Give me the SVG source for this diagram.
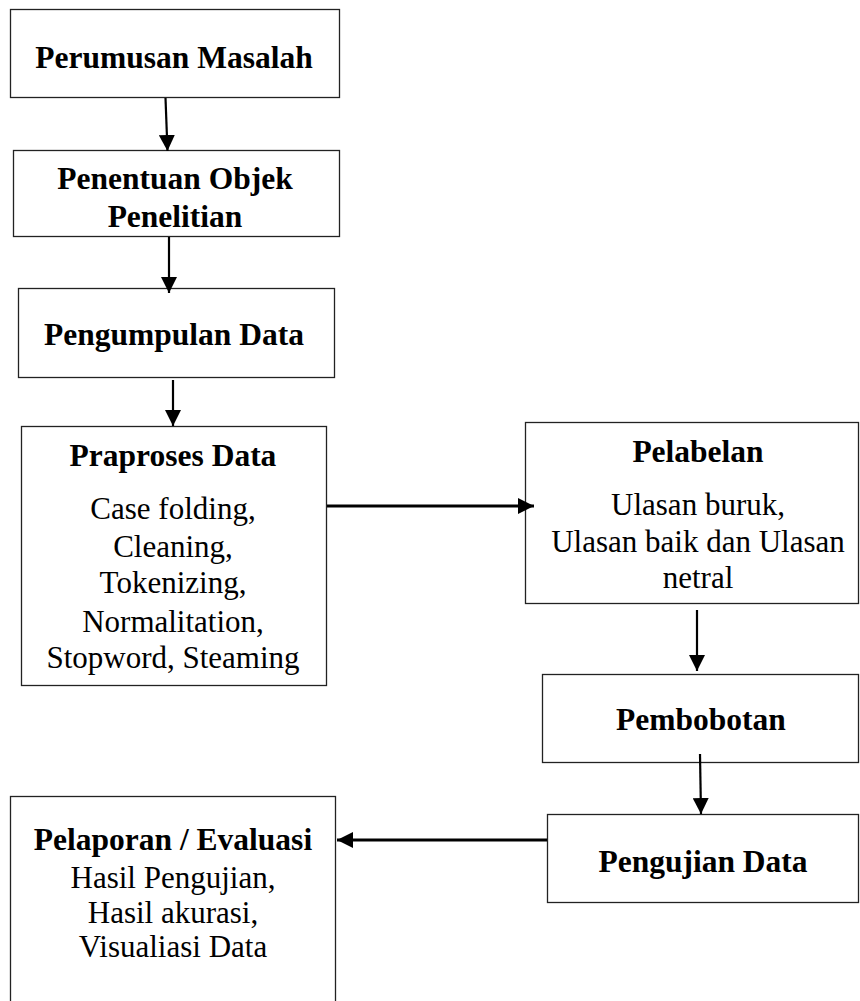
<svg xmlns="http://www.w3.org/2000/svg" width="860" height="1001" viewBox="0 0 860 1001">
  <style>
    .box { fill: #ffffff; stroke: #222222; stroke-width: 1.3; }
    .title { font-family: "Liberation Serif", "Times New Roman", serif; font-weight: bold; font-size: 31.5px; fill: #000000; text-anchor: middle; }
    .body { font-family: "Liberation Serif", "Times New Roman", serif; font-size: 31px; fill: #000000; text-anchor: middle; }
    .link { fill: none; stroke: #000000; stroke-width: 2.2; }
    .link.wide { stroke-width: 2.8; }
  </style>
  <defs>
    <marker id="arrow" viewBox="0 0 16 16" refX="16" refY="8" markerWidth="16" markerHeight="16" markerUnits="userSpaceOnUse" orient="auto">
      <path d="M0,0 L16,8 L0,16 z" fill="#000000"/>
    </marker>
  </defs>

  <rect width="860" height="1001" fill="#ffffff"/>

  <g id="perumusan-masalah">
    <rect class="box" x="10.5" y="9.5" width="329" height="88"/>
    <text class="title" x="174" y="68">Perumusan Masalah</text>
  </g>

  <g id="penentuan-objek">
    <rect class="box" x="13.5" y="150.5" width="326" height="86"/>
    <text class="title" x="175" y="189">Penentuan Objek</text>
    <text class="title" x="175" y="227">Penelitian</text>
  </g>

  <g id="pengumpulan-data">
    <rect class="box" x="18.5" y="288.5" width="316" height="89"/>
    <text class="title" x="174" y="345">Pengumpulan Data</text>
  </g>

  <g id="praproses-data">
    <rect class="box" x="21.5" y="426.5" width="305" height="259"/>
    <text class="title" x="173" y="466">Praproses Data</text>
    <text class="body" x="173" y="519">Case folding,</text>
    <text class="body" x="173" y="557">Cleaning,</text>
    <text class="body" x="173" y="593">Tokenizing,</text>
    <text class="body" x="173" y="632">Normalitation,</text>
    <text class="body" x="173" y="668">Stopword, Steaming</text>
  </g>

  <g id="pelabelan">
    <rect class="box" x="525.5" y="422.5" width="333" height="181"/>
    <text class="title" x="698" y="462">Pelabelan</text>
    <text class="body" x="698" y="515">Ulasan buruk,</text>
    <text class="body" x="698" y="552">Ulasan baik dan Ulasan</text>
    <text class="body" x="698" y="588">netral</text>
  </g>

  <g id="pembobotan">
    <rect class="box" x="542.5" y="674.5" width="316" height="88"/>
    <text class="title" x="701" y="730">Pembobotan</text>
  </g>

  <g id="pengujian-data">
    <rect class="box" x="547.5" y="814.5" width="311" height="88"/>
    <text class="title" x="703" y="872">Pengujian Data</text>
  </g>

  <g id="pelaporan-evaluasi">
    <rect class="box" x="10.5" y="796.5" width="325" height="220"/>
    <text class="title" x="173" y="850">Pelaporan / Evaluasi</text>
    <text class="body" x="173" y="888">Hasil Pengujian,</text>
    <text class="body" x="173" y="923">Hasil akurasi,</text>
    <text class="body" x="173" y="957">Visualiasi Data</text>
  </g>

  <g id="connectors">
    <line class="link" x1="165.5" y1="98" x2="167.5" y2="151" marker-end="url(#arrow)"/>
    <line class="link" x1="169" y1="237" x2="169" y2="293" marker-end="url(#arrow)"/>
    <line class="link" x1="173" y1="380" x2="173" y2="426" marker-end="url(#arrow)"/>
    <line class="link wide" x1="327" y1="506" x2="534" y2="506" marker-end="url(#arrow)"/>
    <line class="link" x1="697" y1="610" x2="697" y2="671" marker-end="url(#arrow)"/>
    <line class="link" x1="700" y1="754" x2="701" y2="814" marker-end="url(#arrow)"/>
    <line class="link wide" x1="547" y1="840" x2="337" y2="840" marker-end="url(#arrow)"/>
  </g>
</svg>
